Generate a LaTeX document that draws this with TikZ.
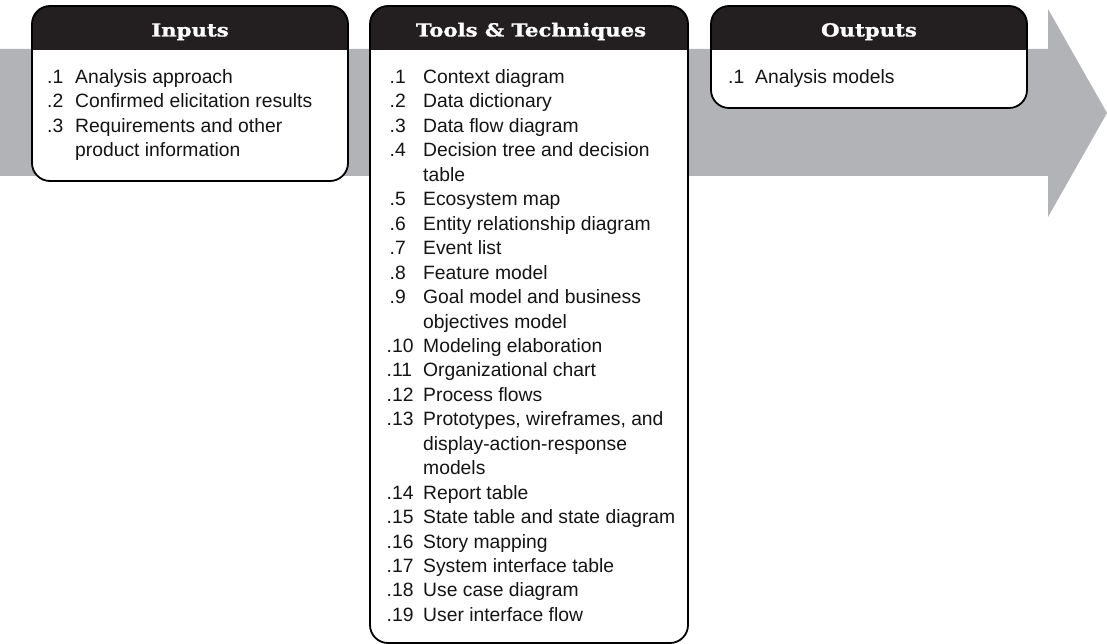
\documentclass[tikz,border=0pt]{standalone}
\usepackage{fontspec}
\setmainfont{Liberation Sans}
\newfontfamily\hdrfont[FakeStretch=1.18,BoldFeatures={FakeBold=1.2}]{DejaVu Serif}
\definecolor{arrowgray}{RGB}{177,179,182}
\definecolor{hdrblack}{RGB}{35,31,32}
\newcommand\bodyfont{\fontsize{19.3}{24.45}\selectfont}
\newcommand\drawpanel[4]{%
  \fill[white,rounded corners=18] (#1,#2) rectangle (#3,#4);
  \begin{scope}
    \clip[rounded corners=18] (#1,#2) rectangle (#3,#4);
    \fill[hdrblack] (#1,#2) rectangle (#3,50);
  \end{scope}
  \draw[boxline,rounded corners=18] (#1,#2) rectangle (#3,#4);
}
\begin{document}
\begin{tikzpicture}[x=1pt,y=-1pt,
  boxline/.style={draw=black,line width=1.8pt},
  hdrtext/.style={text=white,font=\hdrfont\bfseries\fontsize{18}{21}\selectfont,anchor=base,inner sep=0pt},
  itemtext/.style={anchor=base west,inner sep=0pt,font=\bodyfont,text=black!92}]
\useasboundingbox (0,0) rectangle (1107,644);
% big process arrow
\fill[arrowgray] (0,49) -- (1048,49) -- (1048,9) -- (1107,113) -- (1048,217) -- (1048,176) -- (0,176) -- cycle;
% panels
\drawpanel{32}{6}{348}{181}
\drawpanel{370}{6}{688}{643}
\drawpanel{711}{6}{1027}{108}
% headers
\node[hdrtext] (hin) at (190,36.5) {Inputs};
\node[hdrtext] (htt) at (531,36.5) {Tools \& Techniques};
\node[hdrtext] (hout) at (869,36.5) {Outputs};
% inputs
\foreach \nx/\n/\t [count=\i from 0] in {47/.1/Analysis approach, 47/.2/Confirmed elicitation results, 47/.3/Requirements and other, 47//product information}{
  \node[itemtext] (inn\i) at (\nx,83.5+24.45*\i) {\n};
  \node[itemtext] (int\i) at (75,83.5+24.45*\i) {\t};
}
% tools and techniques
\foreach \nx/\n/\t [count=\i from 0] in {
  389.5/.1/Context diagram,
  389.5/.2/Data dictionary,
  389.5/.3/Data flow diagram,
  389.5/.4/Decision tree and decision,
  389.5//table,
  389.5/.5/Ecosystem map,
  389.5/.6/Entity relationship diagram,
  389.5/.7/Event list,
  389.5/.8/Feature model,
  389.5/.9/Goal model and business,
  389.5//objectives model,
  386.5/.10/Modeling elaboration,
  386.5/.11/Organizational chart,
  386.5/.12/Process flows,
  386.5/.13/{Prototypes, wireframes, and},
  386.5//display-action-response,
  386.5//models,
  386.5/.14/Report table,
  386.5/.15/State table and state diagram,
  386.5/.16/Story mapping,
  386.5/.17/System interface table,
  386.5/.18/Use case diagram,
  386.5/.19/User interface flow}{
  \node[itemtext] (ttn\i) at (\nx,83.5+24.45*\i) {\n};
  \node[itemtext] (ttt\i) at (423,83.5+24.45*\i) {\t};
}
% outputs
\node[itemtext] (outn0) at (728,83.5) {.1};
\node[itemtext] (outt0) at (755,83.5) {Analysis models};
\end{tikzpicture}
\end{document}
